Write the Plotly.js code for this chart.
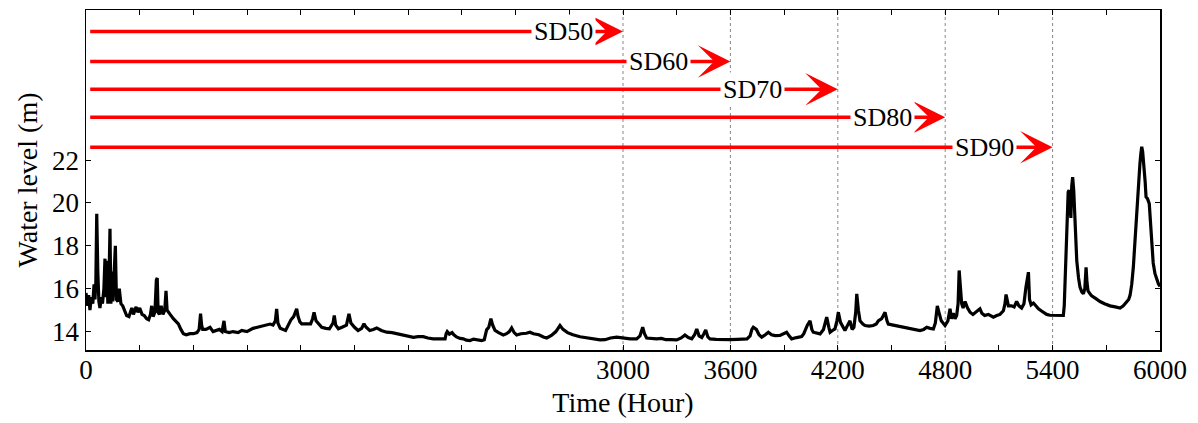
<!DOCTYPE html>
<html>
<head>
<meta charset="utf-8">
<script src="https://cdn.plot.ly/plotly-3.0.1.min.js"></script>
<style>html,body{margin:0;padding:0;background:#fff;}#chart{width:1198px;height:423px;}</style>
</head>
<body>
<div id="chart"></div>
<script>
// Time series: hour and water level (m)
const hours = [0,8,15,22,30,38,45,50,55,60,66,72,78,85,92,100,106,110,116,122,128,134,139,145,150,157,164,170,178,186,195,205,215,227,240,256,265,280,290,300,313,325,339,350,360,367,375,385,393,398,403,410,420,430,440,447,453,460,470,488,500,516,530,544,560,581,600,620,632,640,646,652,670,693,710,730,745,760,771,778,800,821,850,870,899,933,960,990,1010,1028,1045,1058,1065,1072,1085,1100,1115,1130,1145,1160,1172,1177,1185,1195,1205,1230,1255,1266,1274,1285,1300,1317,1340,1360,1380,1387,1395,1410,1430,1455,1469,1480,1500,1520,1540,1553,1565,1585,1605,1624,1650,1680,1710,1736,1755,1773,1800,1829,1855,1884,1910,1940,1975,2006,2012,2018,2030,2045,2055,2070,2090,2108,2125,2145,2165,2185,2210,2225,2238,2250,2262,2272,2285,2305,2331,2350,2365,2378,2392,2406,2430,2460,2480,2500,2530,2555,2574,2600,2625,2648,2665,2690,2720,2760,2800,2840,2872,2900,2930,2965,3002,3040,3076,3095,3110,3120,3132,3160,3188,3215,3240,3270,3300,3325,3346,3365,3384,3400,3412,3425,3440,3452,3462,3474,3486,3520,3560,3598,3640,3693,3710,3720,3728,3745,3760,3775,3795,3812,3830,3850,3877,3895,3914,3928,3942,3970,3998,4010,4017,4030,4045,4055,4063,4080,4101,4120,4138,4150,4157,4170,4184,4195,4203,4215,4228,4240,4255,4268,4280,4290,4300,4306,4315,4324,4340,4352,4375,4398,4415,4426,4445,4464,4475,4482,4510,4540,4566,4595,4622,4640,4659,4680,4697,4715,4734,4745,4756,4765,4778,4799,4815,4827,4835,4845,4855,4864,4872,4878,4885,4892,4900,4911,4925,4939,4955,4970,4985,4994,5005,5020,5041,5055,5069,5088,5106,5125,5134,5140,5147,5153,5170,5185,5199,5212,5227,5240,5251,5258,5265,5271,5280,5293,5305,5321,5340,5367,5385,5404,5430,5460,5465,5469,5475,5482,5487,5492,5497,5502,5507,5512,5518,5525,5530,5535,5545,5553,5563,5572,5580,5587,5592,5598,5610,5618,5640,5665,5690,5721,5750,5777,5795,5814,5825,5833,5842,5851,5860,5870,5880,5888,5893,5898,5903,5907,5912,5917,5922,5930,5940,5947,5954,5962,5972,5982,5991,6000];
const level = [15.8,15.2,15.7,15.0,15.6,15.3,16.2,15.5,16.3,19.5,16.8,15.4,15.1,15.6,15.3,16.0,17.4,15.6,17.3,15.3,16.2,18.8,15.3,16.8,15.4,17.2,18.0,15.5,15.4,16.0,15.3,15.2,15.0,14.75,14.7,15.1,14.8,15.15,14.9,15.1,14.8,14.75,14.6,14.55,14.8,15.2,14.7,14.9,16.4,16.5,14.9,14.8,15.2,14.8,15.0,15.9,15.0,14.9,14.8,14.6,14.5,14.36,14.1,13.9,13.85,13.9,13.9,13.95,14.1,14.83,14.3,14.1,14.1,14.2,14.0,14.05,14.1,14.0,14.5,14.0,13.95,14.0,13.95,14.05,14.0,14.15,14.2,14.25,14.3,14.35,14.3,14.5,15.06,14.4,14.15,14.1,14.05,14.3,14.55,14.7,14.9,15.06,14.7,14.45,14.36,14.35,14.36,14.6,14.9,14.5,14.35,14.2,14.15,14.13,14.4,14.75,14.3,14.13,14.2,14.3,14.83,14.4,14.2,14.05,14.15,14.36,14.2,14.05,14.1,14.17,14.05,13.97,13.95,13.9,13.88,13.84,13.78,13.73,13.76,13.76,13.7,13.66,13.66,13.66,13.9,14.0,13.88,13.95,13.85,13.75,13.68,13.66,13.6,13.58,13.65,13.62,13.58,13.62,14.08,14.2,14.6,14.3,14.05,13.95,13.84,13.9,14.0,14.17,13.95,13.84,13.9,13.92,13.97,13.9,13.85,13.75,13.7,13.82,14.0,14.28,14.1,13.95,13.85,13.76,13.72,13.65,13.61,13.62,13.7,13.74,13.7,13.66,13.66,13.8,14.2,13.9,13.7,13.68,13.66,13.68,13.62,13.62,13.61,13.7,13.84,13.72,13.66,13.85,14.12,13.8,13.72,13.9,14.08,13.75,13.66,13.64,13.62,13.62,13.64,13.66,13.8,14.1,14.2,14.1,13.85,13.74,13.85,13.97,13.85,13.81,13.82,13.88,13.97,13.8,13.66,13.72,13.77,13.9,14.05,14.3,14.5,14.1,13.97,13.92,13.89,14.1,14.67,14.2,13.97,14.05,14.12,14.5,14.9,14.43,14.2,14.05,14.3,14.5,14.1,14.2,14.9,15.76,15.0,14.5,14.35,14.28,14.25,14.28,14.35,14.5,14.6,14.9,14.5,14.35,14.3,14.25,14.2,14.15,14.12,14.1,14.05,14.1,14.2,14.15,14.12,14.4,15.2,14.9,14.5,14.28,14.5,15.06,14.6,14.85,14.6,14.75,15.3,16.85,15.8,15.3,15.1,15.4,15.1,14.9,14.8,14.9,15.0,15.06,14.85,14.75,14.8,14.75,14.67,14.75,14.8,14.97,15.3,15.73,15.3,15.2,15.2,15.15,15.4,15.2,15.1,15.3,16.07,16.5,16.77,15.5,15.25,15.33,15.2,15.06,14.95,14.8,14.76,14.75,14.75,14.75,15.2,16.23,18.5,20.28,20.5,20.6,19.6,19.3,20.8,21.2,20.6,19.34,18.2,17.3,16.5,16.07,15.85,15.76,16.0,17.0,16.3,15.9,15.75,15.67,15.55,15.4,15.3,15.2,15.15,15.1,15.2,15.4,15.5,15.7,16.2,17.0,18.3,19.65,20.8,21.84,22.3,22.62,22.4,22.0,21.9,21.0,20.28,20.2,19.97,19.0,17.94,17.2,16.7,16.4,16.23,16.1];

// Scenario arrows
const sdLabels = ['SD50','SD60','SD70','SD80','SD90'];
const sdEnd = [3000,3600,4200,4800,5400];
const sdLevel = [28.0,26.6,25.3,24.0,22.6];
const sdLabelX = [2670,3196,3726,4447,5017];
const sdStart = 15;

// Axis ticks
const xTickVals = [0,300,600,900,1200,1500,1800,2100,2400,2700,3000,3300,3600,3900,4200,4500,4800,5100,5400,5700,6000];
const xTickText = ['0','','','','','','','','','','3000','','3600','','4200','','4800','','5400','','6000'];
const yTickVals = [14,16,18,20,22];

const FONT = "'Liberation Serif','Times New Roman',serif";

const traces = [{
  x: hours, y: level, type: 'scatter', mode: 'lines',
  line: {color: '#000', width: 3.2}, hoverinfo: 'skip', showlegend: false
}];

const shapes = sdEnd.map(v => ({
  type: 'line', xref: 'x', yref: 'paper', x0: v, x1: v, y0: 0, y1: 1,
  line: {color: '#888', width: 1, dash: 'dot'}, layer: 'below'
}));

const annotations = [];
sdLabels.forEach((lab, i) => {
  annotations.push({
    x: sdEnd[i], y: sdLevel[i], xref: 'x', yref: 'y',
    ax: sdStart, ay: sdLevel[i], axref: 'x', ayref: 'y',
    text: '', showarrow: true, arrowhead: 3, arrowsize: 1.55, arrowwidth: 3.5,
    arrowcolor: '#ff0000', standoff: 0
  });
});
sdLabels.forEach((lab, i) => {
  annotations.push({
    x: sdLabelX[i], y: sdLevel[i], xref: 'x', yref: 'y',
    text: lab, showarrow: false, bgcolor: '#ffffff', borderpad: 2,
    font: {family: FONT, size: 26, color: '#000'}
  });
});

const layout = {
  width: 1198, height: 423,
  margin: {l: 86, r: 38, t: 10, b: 73},
  paper_bgcolor: '#fff', plot_bgcolor: '#fff',
  font: {family: FONT, size: 27, color: '#000'},
  showlegend: false,
  xaxis: {
    range: [0, 6000], tickvals: xTickVals, ticktext: xTickText,
    ticks: 'inside', ticklen: 5, tickwidth: 1, tickcolor: '#000',
    showline: true, linecolor: '#000', linewidth: 1.5, mirror: 'ticks',
    showgrid: false, zeroline: false, ticklabelstandoff: -5,
    tickfont: {family: FONT, size: 27},
    title: {text: 'Time (Hour)', font: {family: FONT, size: 28}, standoff: 8}
  },
  yaxis: {
    range: [13.14, 29.0], tickvals: yTickVals,
    ticks: 'inside', ticklen: 5, tickwidth: 1, tickcolor: '#000',
    showline: true, linecolor: '#000', linewidth: 1.5, mirror: 'ticks',
    showgrid: false, zeroline: false,
    tickfont: {family: FONT, size: 27},
    title: {text: 'Water level (m)', font: {family: FONT, size: 28}, standoff: 6}
  },
  shapes: shapes,
  annotations: annotations
};

Plotly.newPlot('chart', traces, layout, {displayModeBar: false, staticPlot: true});
</script>
</body>
</html>
